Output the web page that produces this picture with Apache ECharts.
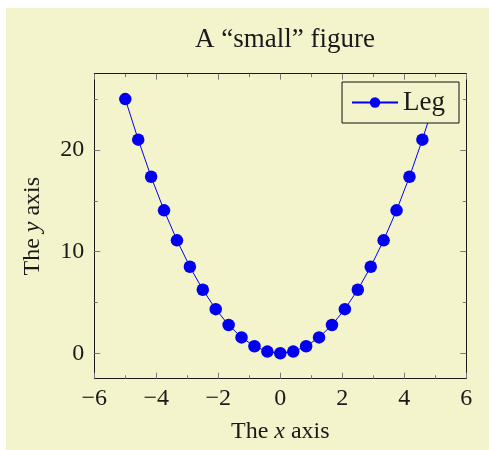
<!DOCTYPE html>
<html>
<head>
<meta charset="utf-8">
<script src="https://cdn.jsdelivr.net/npm/echarts@6/dist/echarts.min.js"></script>
<style>
html,body{margin:0;padding:0;background:#ffffff;}
#c{position:absolute;left:6px;top:8px;width:483px;height:442px;background:#f3f3cc;}
</style>
</head>
<body>
<div id="c"></div>
<script>
// Data
const xValues = [-5, -4.583, -4.167, -3.75, -3.333, -2.917, -2.5, -2.083, -1.667, -1.25, -0.833, -0.417, 0, 0.417, 0.833, 1.25, 1.667, 2.083, 2.5, 2.917, 3.333, 3.75, 4.167, 4.583, 5];
const yValues = [25, 21.01, 17.36, 14.06, 11.11, 8.51, 6.25, 4.34, 2.78, 1.56, 0.69, 0.17, 0, 0.17, 0.69, 1.56, 2.78, 4.34, 6.25, 8.51, 11.11, 14.06, 17.36, 21.01, 25];
const seriesName = 'Leg';
const titleText = 'A \u201csmall\u201d figure';
const xRange = [-6, 6];
const yRange = [-2.5, 27.5];
const yMajorTicks = [0, 10, 20];
const yMinorTicks = [5, 15, 25];

const FONT = '"Liberation Serif", "DejaVu Serif", serif';
const TXT = '#1a1a1a';
const TICK = '#7a7a7a';
const LINE = '#1a1a1a';
const BLUE = '#0000ee';

const chart = echarts.init(document.getElementById('c'), null, {renderer: 'canvas'});

const data = xValues.map((x, i) => [x, yValues[i]]);

function xAxisBase(pos, showLabels) {
  return {
    type: 'value', position: pos, min: xRange[0], max: xRange[1], interval: 2,
    axisLine: {show: true, onZero: false, lineStyle: {color: LINE, width: 1}},
    axisTick: {show: true, inside: true, length: 6, lineStyle: {color: TICK, width: 1}},
    minorTick: {show: true, splitNumber: 2, length: 3.5, lineStyle: {color: TICK, width: 1}},
    axisLabel: {show: showLabels, margin: 8, color: TXT, fontFamily: FONT, fontSize: 24,
      formatter: v => (v < 0 ? '\u2212' + Math.abs(v) : String(v))},
    splitLine: {show: false}
  };
}

function yAxisBase(pos, ticks, len, showLine, showLabels) {
  return {
    type: 'value', position: pos, min: yRange[0], max: yRange[1],
    axisLine: {show: showLine, onZero: false, lineStyle: {color: LINE, width: 1}},
    axisTick: {show: true, inside: true, length: len, customValues: ticks, lineStyle: {color: TICK, width: 1}},
    axisLabel: {show: showLabels, customValues: ticks, margin: 10, color: TXT, fontFamily: FONT, fontSize: 24},
    splitLine: {show: false},
    minorTick: {show: false}
  };
}

const xBottom = xAxisBase('bottom', true);
xBottom.name = '{n|The }{i|x}{n| axis}';
xBottom.nameLocation = 'middle';
xBottom.nameGap = 41;
xBottom.nameTextStyle = {rich: {
  n: {fontFamily: FONT, fontSize: 24, color: TXT},
  i: {fontFamily: FONT, fontSize: 24, fontStyle: 'italic', color: TXT}
}};

const yLeft = yAxisBase('left', yMajorTicks, 6, true, true);
yLeft.name = '{n|The }{i|y}{n| axis}';
yLeft.nameLocation = 'middle';
yLeft.nameGap = 50;
yLeft.nameTextStyle = {rich: {
  n: {fontFamily: FONT, fontSize: 24, color: TXT},
  i: {fontFamily: FONT, fontSize: 24, fontStyle: 'italic', color: TXT}
}};

const option = {
  animation: false,
  backgroundColor: 'transparent',
  title: {
    text: titleText, left: 274, top: 13, textAlign: 'center',
    textStyle: {fontFamily: FONT, fontSize: 27, fontWeight: 'normal', color: TXT}
  },
  grid: {left: 88.3, top: 65.7, width: 372, height: 305, containLabel: false},
  legend: {
    show: true, right: 30, top: 74,
    orient: 'horizontal',
    padding: [7, 14, 7, 9],
    itemWidth: 46, itemHeight: 13, itemGap: 4,
    borderColor: '#111', borderWidth: 1, backgroundColor: '#f3f3cc',
    textStyle: {fontFamily: FONT, fontSize: 27, color: TXT},
    data: [seriesName]
  },
  xAxis: [xBottom, xAxisBase('top', false)],
  yAxis: [
    yLeft,
    yAxisBase('left', yMinorTicks, 3.5, false, false),
    yAxisBase('right', yMajorTicks, 6, true, false),
    yAxisBase('right', yMinorTicks, 3.5, false, false)
  ],
  series: [{
    name: seriesName, type: 'line', xAxisIndex: 0, yAxisIndex: 0,
    data: data, symbol: 'circle', symbolSize: 12.5,
    lineStyle: {color: BLUE, width: 1},
    itemStyle: {color: BLUE},
    clip: false
  }]
};
chart.setOption(option);
</script>
</body>
</html>
